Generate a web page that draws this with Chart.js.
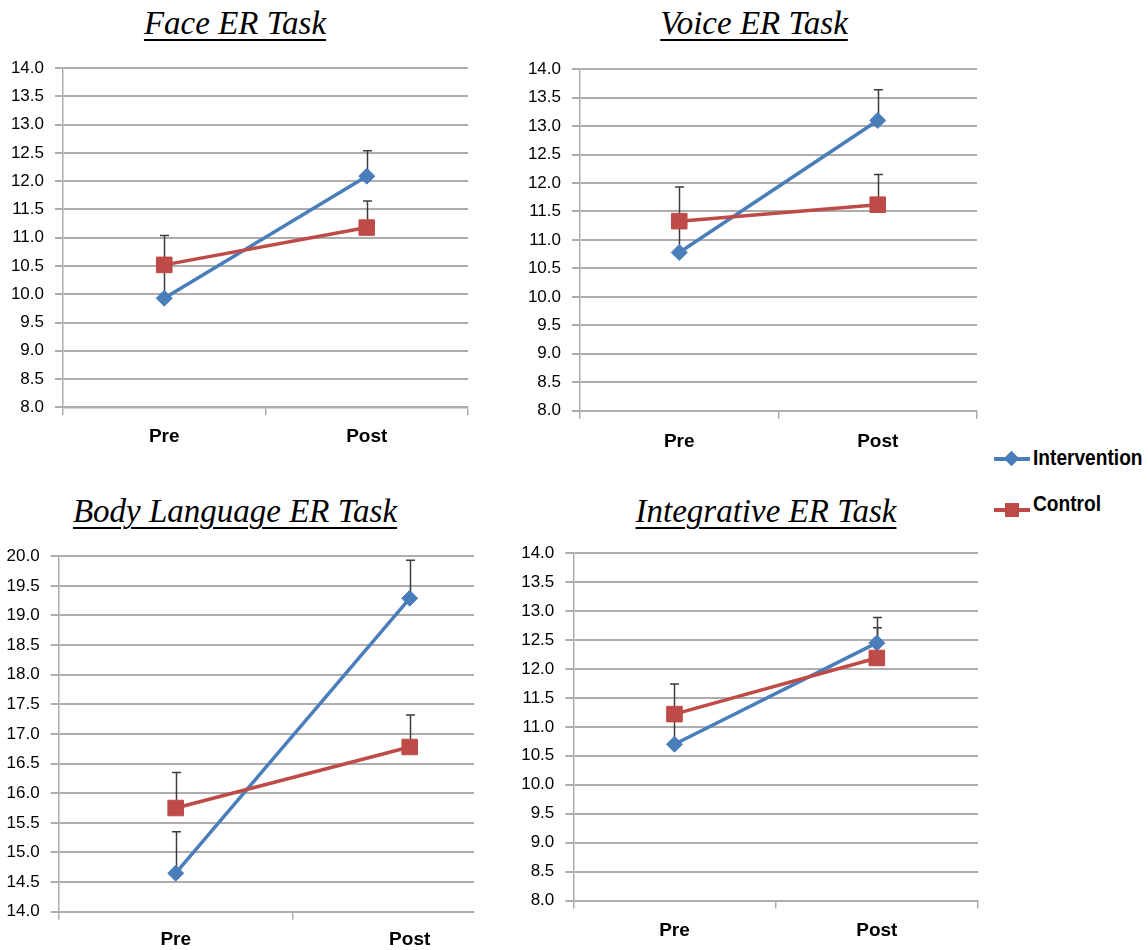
<!DOCTYPE html>
<html>
<head>
<meta charset="utf-8">
<script src="https://cdn.jsdelivr.net/npm/chart.js@4.4.1/dist/chart.umd.min.js"></script>
<style>
  html, body { margin: 0; padding: 0; background: #fff; }
  body { width: 1148px; height: 950px; position: relative; overflow: hidden; }
  .panel { position: absolute; overflow: hidden; }
  .panel canvas { display: block; }
  .title {
    position: absolute;
    font-family: "Liberation Serif", "Times New Roman", serif;
    font-style: italic;
    font-size: 33px;
    line-height: 1;
    color: #000;
    white-space: nowrap;
    text-decoration: underline;
    text-decoration-thickness: 2px;
    text-underline-offset: 5px;
    transform: translateX(-50%);
  }
  .legend-item { position: absolute; height: 24px; }
  .legend-line { position: absolute; left: 0; width: 36px; height: 4px; }
  .legend-mark { position: absolute; }
  .legend-text {
    position: absolute;
    left: 39px;
    font-family: "Liberation Sans", Arial, sans-serif;
    font-weight: bold;
    font-size: 22px;
    line-height: 1;
    color: #000;
    white-space: nowrap;
    transform: scaleX(0.87);
    transform-origin: 0 50%;
  }
</style>
</head>
<body>

<div class="title" style="left:235px; top:7px;">Face ER Task</div>
<div class="title" style="left:754px; top:7px;">Voice ER Task</div>
<div class="title" style="left:235px; top:495px;">Body Language ER Task</div>
<div class="title" style="left:766px; top:495px;">Integrative ER Task</div>

<div class="panel" style="left:0px; top:47px; width:480px; height:403px;">
  <canvas id="faceChart" width="480" height="403"></canvas>
</div>
<div class="panel" style="left:500px; top:48px; width:490px; height:412px;">
  <canvas id="voiceChart" width="490" height="412"></canvas>
</div>
<div class="panel" style="left:0px; top:535px; width:474px; height:415px;">
  <canvas id="bodyChart" width="540" height="415"></canvas>
</div>
<div class="panel" style="left:500px; top:532px; width:490px; height:418px;">
  <canvas id="integrChart" width="490" height="418"></canvas>
</div>

<!-- legend -->
<div class="legend-item" style="left:994px; top:447px;">
  <div class="legend-line" style="top:10px; background:#4A7EBB;"></div>
  <div class="legend-mark" style="left:12px; top:6px; width:11px; height:11px; background:#4A7EBB; transform:rotate(45deg);"></div>
  <div class="legend-text" style="top:0px;">Intervention</div>
</div>
<div class="legend-item" style="left:994px; top:493px;">
  <div class="legend-line" style="top:15px; background:#BE4B48;"></div>
  <div class="legend-mark" style="left:11px; top:10px; width:14px; height:14px; background:#BE4B48;"></div>
  <div class="legend-text" style="top:0px;">Control</div>
</div>

<script>
// Measurement phases shared by all four tasks
const phases = ['Pre', 'Post'];

// Face ER task: group means and upper error bars
const faceIntervention = [9.93, 12.09];
const faceInterventionErr = [0.50, 0.45];
const faceControl = [10.52, 11.18];
const faceControlErr = [0.52, 0.47];

// Voice ER task
const voiceIntervention = [10.78, 13.10];
const voiceInterventionErr = [0.52, 0.54];
const voiceControl = [11.33, 11.62];
const voiceControlErr = [0.60, 0.53];

// Body language ER task
const bodyIntervention = [14.65, 19.29];
const bodyInterventionErr = [0.70, 0.64];
const bodyControl = [15.75, 16.78];
const bodyControlErr = [0.60, 0.54];

// Integrative ER task
const integrIntervention = [10.70, 12.45];
const integrInterventionErr = [0.50, 0.44];
const integrControl = [11.22, 12.19];
const integrControlErr = [0.52, 0.52];

// Y axis ranges [min, max]
const faceRange = [8, 14];
const voiceRange = [8, 14];
const bodyRange = [14, 20];
const integrRange = [8, 14];

const BLUE = '#4A7EBB';
const RED = '#BE4B48';
const GRID = '#ADADAD';

// Draws the one-sided (upper) error bars behind the lines and markers
const errorBarPlugin = {
  id: 'errorBars',
  beforeDatasetsDraw(chart) {
    const ctx = chart.ctx;
    const yScale = chart.scales.y;
    ctx.save();
    ctx.strokeStyle = '#3c3c3c';
    ctx.lineWidth = 1.5;
    chart.data.datasets.forEach((ds, i) => {
      const meta = chart.getDatasetMeta(i);
      if (!ds.errorPlus) return;
      meta.data.forEach((pt, j) => {
        const top = yScale.getPixelForValue(ds.data[j] + ds.errorPlus[j]);
        const x = Math.round(pt.x) + 0.5;
        ctx.beginPath();
        ctx.moveTo(x, pt.y);
        ctx.lineTo(x, top);
        ctx.moveTo(x - 4.5, top);
        ctx.lineTo(x + 4.5, top);
        ctx.stroke();
      });
    });
    ctx.restore();
  }
};

function makeChart(id, inter, interErr, ctrl, ctrlErr, range, geom) {
  return new Chart(document.getElementById(id), {
    type: 'line',
    data: {
      labels: phases,
      datasets: [
        {
          label: 'Control',
          data: ctrl,
          errorPlus: ctrlErr,
          borderColor: RED,
          backgroundColor: RED,
          borderWidth: 3.5,
          pointStyle: 'rect',
          pointRadius: 11,
          pointBorderWidth: 1,
          pointBorderColor: RED,
          pointBackgroundColor: RED,
          tension: 0,
          order: 0
        },
        {
          label: 'Intervention',
          data: inter,
          errorPlus: interErr,
          borderColor: BLUE,
          backgroundColor: BLUE,
          borderWidth: 3.5,
          pointStyle: 'rectRot',
          pointRadius: 8,
          pointBorderWidth: 1,
          pointBorderColor: BLUE,
          pointBackgroundColor: BLUE,
          tension: 0,
          order: 1
        }
      ]
    },
    options: {
      responsive: false,
      animation: false,
      events: [],
      layout: { padding: { top: geom.padTop, right: geom.padRight, left: 0, bottom: 0 } },
      plugins: {
        legend: { display: false },
        tooltip: { enabled: false },
        title: { display: false }
      },
      scales: {
        x: {
          type: 'category',
          offset: true,
          afterFit(scale) { scale.height = geom.xHeight; },
          grid: {
            offset: true,
            drawOnChartArea: false,
            drawTicks: true,
            tickLength: 8,
            color: GRID,
            lineWidth: 1.5
          },
          border: { display: true, color: GRID, width: 1.5 },
          ticks: {
            padding: geom.xPad,
            color: '#000',
            font: { family: '"Liberation Sans", Arial, sans-serif', size: 19, weight: 'bold' }
          }
        },
        y: {
          min: range[0],
          max: range[1],
          afterFit(scale) { scale.width = geom.yWidth; },
          grid: {
            color: GRID,
            lineWidth: 2,
            tickLength: 8
          },
          border: { display: true, color: GRID, width: 1.5 },
          ticks: {
            stepSize: 0.5,
            padding: 11,
            color: '#000',
            font: { family: '"Liberation Sans", Arial, sans-serif', size: 17 },
            callback: (v) => Number(v).toFixed(1)
          }
        }
      }
    },
    plugins: [errorBarPlugin]
  });
}

makeChart('faceChart', faceIntervention, faceInterventionErr, faceControl, faceControlErr, faceRange,
  { padTop: 20.7, padRight: 9, yWidth: 63, xHeight: 42.7, xPad: 10 });
makeChart('voiceChart', voiceIntervention, voiceInterventionErr, voiceControl, voiceControlErr, voiceRange,
  { padTop: 20.3, padRight: 13, yWidth: 80, xHeight: 49.3, xPad: 12 });
makeChart('bodyChart', bodyIntervention, bodyInterventionErr, bodyControl, bodyControlErr, bodyRange,
  { padTop: 20, padRight: 13.3, yWidth: 58.7, xHeight: 38.3, xPad: 9 });
makeChart('integrChart', integrIntervention, integrInterventionErr, integrControl, integrControlErr, integrRange,
  { padTop: 20.7, padRight: 10, yWidth: 73.3, xHeight: 49.5, xPad: 11 });
</script>
</body>
</html>
